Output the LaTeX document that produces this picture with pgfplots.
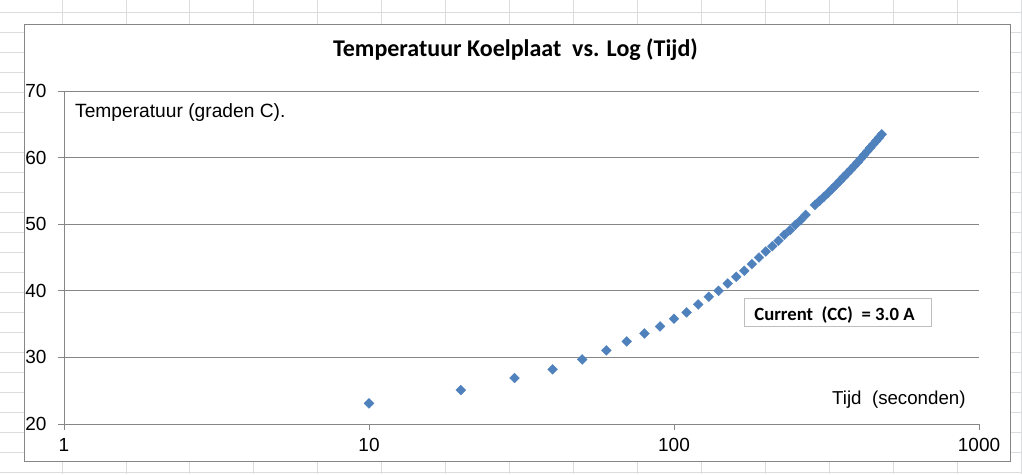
\documentclass[border=0pt]{standalone}
\usepackage{pgfplots}
\pgfplotsset{compat=1.18}
\usepackage{fontspec}
\setmainfont{Liberation Sans}
\newfontfamily\calibri{Carlito}
\definecolor{excelblue}{RGB}{79,129,189}
\definecolor{gridgray}{RGB}{134,134,134}
\definecolor{sheetgray}{RGB}{218,220,221}
\definecolor{boxgray}{RGB}{190,190,190}
\begin{document}
\begin{tikzpicture}[x=1pt,y=1pt]
\useasboundingbox (0,0) rectangle (1022,474);
% spreadsheet background grid
\begin{scope}
\clip (0,0) rectangle (1022,474);
\foreach \k in {0,...,15} \draw[sheetgray, line width=0.8pt] ({62+63.93*\k},0) -- ({62+63.93*\k},474);
\foreach \k in {0,...,23} \draw[sheetgray, line width=0.8pt] (0,{474-12-20*\k}) -- (1022,{474-12-20*\k});
\end{scope}
% chart area
\filldraw[fill=white, draw=gridgray, line width=0.9pt] (24,13) rectangle (1010,450);
\begin{axis}[
  at={(64pt,50pt)}, anchor=south west,
  scale only axis, width=915pt, height=333pt,
  xmode=log, xmin=1, xmax=1000, ymin=20, ymax=70,
  xtick={1,10,100,1000}, xticklabels={1,10,100,1000},
  ytick={20,30,40,50,60,70}, yticklabels={20,30,40,50,60,70},
  xminorticks=false, yminorticks=false,
  axis lines=left,
  axis line style={draw=gridgray, line width=0.9pt, -},
  ymajorgrids,
  major grid style={draw=gridgray, line width=0.9pt},
  tick style={draw=gridgray, line width=0.9pt},
  major tick length=6pt, tick align=outside,
  ticklabel style={font=\fontsize{19}{21}\selectfont, text=black},
  yticklabel style={xshift=-8pt},
  xticklabel style={yshift=-5pt},
  clip=false,
]
\addplot[only marks, mark=square*, mark size=3.5pt,
  mark options={rotate=45, fill=excelblue, draw=excelblue, line width=0.3pt}]
coordinates {
(10,23.1) (20,25.1) (30,26.9) (40,28.2) (50,29.7) (60,31.05) (70,32.4)
(80,33.6) (90,34.65) (100,35.8) (110,36.75) (120,37.95) (130,39.1)
(140,40.0) (150,41.1) (160,42.1) (170,43.0) (180,44.0) (190,45.0)
(200,45.9) (210,46.7) (220,47.5) (230,48.4) (240,49.1) (250,49.9)
(260,50.6) (270,51.4)
(290,52.9) (300,53.5) (310,54.1) (320,54.7) (330,55.3) (340,55.9)
(350,56.5) (360,57.1) (370,57.65) (380,58.2) (390,58.75) (400,59.3)
(410,59.85) (420,60.4) (430,60.95) (440,61.5) (450,62.0) (460,62.5)
(470,63.0) (480,63.5)
};
\end{axis}
% title
\node[anchor=base, inner sep=0pt, font=\calibri\bfseries\fontsize{24}{28}\selectfont] at (515.5,417.3)
  {Temperatuur Koelplaat\ \ vs. Log (Tijd)};
% axis labels
\node[anchor=base west, inner sep=0pt, font=\fontsize{19.2}{21}\selectfont] at (75,356.7)
  {Temperatuur (graden C).};
\node[anchor=base west, inner sep=0pt, font=\fontsize{18.7}{21}\selectfont] at (832,70)
  {Tijd\ \ (seconden)};
% current box
\draw[boxgray, line width=0.8pt, fill=white] (744,148) rectangle (931,176);
\node[anchor=base, inner sep=0pt, font=\calibri\bfseries\fontsize{18.7}{21}\selectfont] at (834.5,153.3)
  {Current\ \ (CC)\ \ = 3.0 A};
\end{tikzpicture}
\end{document}
